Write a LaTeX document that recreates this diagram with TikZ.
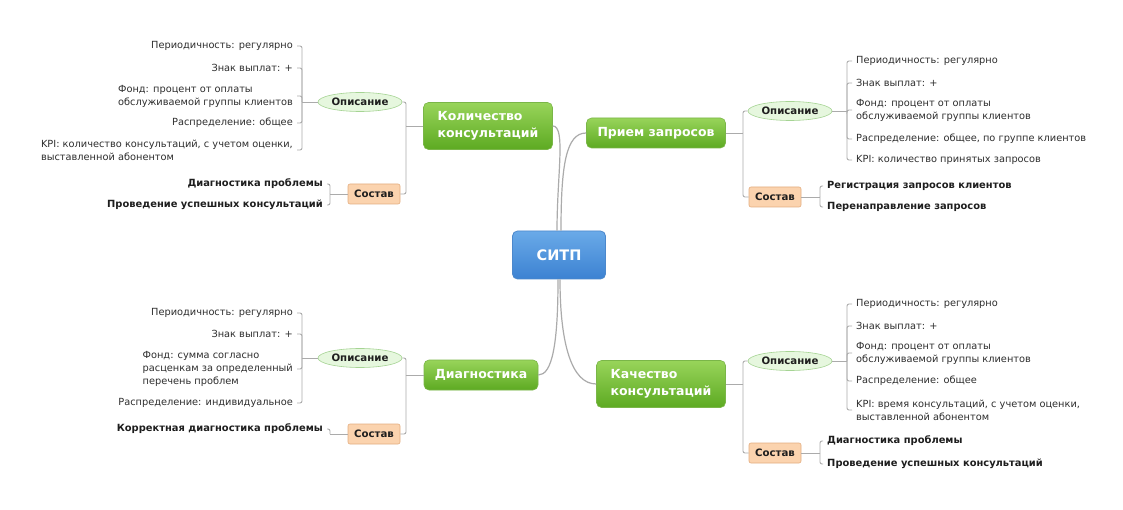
\documentclass[tikz,border=0pt]{standalone}
\usepackage{fontspec}
\setmainfont{DejaVu Sans}
\usetikzlibrary{shapes.geometric}
\definecolor{lgray}{HTML}{ABABAB}
\definecolor{txt}{HTML}{2E2E2E}
\definecolor{btxt}{HTML}{1E1E1E}
\definecolor{gtop}{HTML}{98D45A}
\definecolor{gbot}{HTML}{5DAA22}
\definecolor{gborder}{HTML}{7AB648}
\definecolor{btop}{HTML}{6AAAE8}
\definecolor{bbot}{HTML}{3C82D2}
\definecolor{bborder}{HTML}{4C88CC}
\definecolor{efill}{HTML}{E6F7DE}
\definecolor{eborder}{HTML}{A6D494}
\definecolor{ofill}{HTML}{FBD3AE}
\definecolor{oborder}{HTML}{E3AD80}
\newcommand\lfnt{\fontsize{9.8}{13}\selectfont}
\newcommand\bfnt{\fontsize{9.9}{13}\selectfont\bfseries}
\newcommand\efnt{\fontsize{10.2}{13}\selectfont\bfseries}
\newcommand\tfnt{\fontsize{12.5}{16.5}\selectfont\bfseries}
\begin{document}
\begin{tikzpicture}[x=1pt,y=-1pt,
  conn/.style={draw=lgray, line width=0.9pt, rounded corners=2pt},
  curve/.style={draw=lgray, line width=1.2pt},
  leafL/.style={anchor=east, align=left, font=\lfnt, text=txt, inner xsep=4pt, inner ysep=1pt},
  leafR/.style={anchor=west, align=left, font=\lfnt, text=txt, inner xsep=4pt, inner ysep=1pt},
  bleafL/.style={anchor=east, font=\bfnt, text=btxt, inner xsep=4pt, inner ysep=1pt},
  bleafR/.style={anchor=west, font=\bfnt, text=btxt, inner xsep=4pt, inner ysep=1pt},
  central/.style={rectangle, rounded corners=5pt, draw=bborder, line width=0.8pt, top color=btop, bottom color=bbot, minimum width=93pt, minimum height=48pt, text=white, font=\fontsize{14.5}{16}\selectfont\bfseries, inner sep=0pt},
  topic/.style={rectangle, rounded corners=5pt, draw=gborder, line width=0.6pt, top color=gtop, bottom color=gbot, text=white, font=\tfnt, align=left, inner sep=0pt},
  descr/.style={ellipse, draw=eborder, fill=efill, line width=0.6pt, minimum width=84pt, minimum height=19pt, inner sep=0pt, font=\efnt, text=btxt},
  comp/.style={rectangle, rounded corners=2pt, draw=oborder, fill=ofill, line width=0.6pt, minimum width=52pt, minimum height=20pt, inner sep=0pt, font=\efnt, text=btxt}
]
\useasboundingbox[fill=white] (0,0) rectangle (1123,510);

% central
\node[central] (cen) at (559,255) {СИТП};

% topics
\node[topic, minimum width=129pt, minimum height=47pt] (kol) at (488,126) {Количество\\консультаций};
\node[topic, minimum width=139pt, minimum height=30pt] (pri) at (656,133) {Прием запросов};
\node[topic, minimum width=114pt, minimum height=30pt] (dia) at (481,375) {Диагностика};
\node[topic, minimum width=129pt, minimum height=47pt] (kach) at (661,384) {Качество\\консультаций};

% central connectors
\draw[curve] ([xshift=-2pt]cen.north) .. controls (557,175) and (566,126) .. (kol.east);
\draw[curve] ([xshift=2pt]cen.north) .. controls (561,165) and (566,133) .. (pri.west);
\draw[curve] ([xshift=-1pt]cen.south) .. controls (558,345) and (552,375) .. (dia.east);
\draw[curve] ([xshift=1pt]cen.south) .. controls (560,345) and (572,384) .. (kach.west);

% ---------- Количество консультаций ----------
\node[descr] (op1) at (360,102) {Описание};
\node[comp] (so1) at (374,194) {Состав};
\coordinate (b1) at (406,126);
\draw[conn] (kol.west) -- (b1);
\draw[conn] (b1) |- (op1.east);
\draw[conn] (b1) |- (so1.east);
\coordinate (c1) at (302,102);
\draw[conn] (op1.west) -- (c1);
\node[leafL] (l11) at (297,46) {Периодичность: регулярно};
\node[leafL] (l12) at (297,68) {Знак выплат: +};
\node[leafL] (l13) at (297,96) {Фонд: процент от оплаты\\обслуживаемой группы клиентов};
\node[leafL] (l14) at (297,123) {Распределение: общее};
\node[leafL] (l15) at (297,150) {KPI: количество консультаций, с учетом оценки,\\выставленной абонентом};
\foreach \n in {l11,l12,l13,l14,l15} \draw[conn] (c1) |- (\n.east);
\coordinate (c2) at (330,194);
\draw[conn] (so1.west) -- (c2);
\node[bleafL] (s11) at (327,184) {Диагностика проблемы};
\node[bleafL] (s12) at (327,205) {Проведение успешных консультаций};
\foreach \n in {s11,s12} \draw[conn] (c2) |- (\n.east);

% ---------- Прием запросов ----------
\node[descr] (op2) at (790,111) {Описание};
\node[comp] (so2) at (775,197) {Состав};
\coordinate (b2) at (743,133);
\draw[conn] (pri.east) -- (b2);
\draw[conn] (b2) |- (op2.west);
\draw[conn] (b2) |- (so2.west);
\coordinate (c3) at (847,111);
\draw[conn] (op2.east) -- (c3);
\node[leafR] (l21) at (852,61) {Периодичность: регулярно};
\node[leafR] (l22) at (852,83) {Знак выплат: +};
\node[leafR] (l23) at (852,110) {Фонд: процент от оплаты\\обслуживаемой группы клиентов};
\node[leafR] (l24) at (852,139) {Распределение: общее, по группе клиентов};
\node[leafR] (l25) at (852,160) {KPI: количество принятых запросов};
\foreach \n in {l21,l22,l23,l24,l25} \draw[conn] (c3) |- (\n.west);
\coordinate (c4) at (820,197);
\draw[conn] (so2.east) -- (c4);
\node[bleafR] (s21) at (823,186) {Регистрация запросов клиентов};
\node[bleafR] (s22) at (823,207) {Перенаправление запросов};
\foreach \n in {s21,s22} \draw[conn] (c4) |- (\n.west);

% ---------- Диагностика ----------
\node[descr] (op3) at (360,358) {Описание};
\node[comp] (so3) at (374,434) {Состав};
\coordinate (b3) at (406,375);
\draw[conn] (dia.west) -- (b3);
\draw[conn] (b3) |- (op3.east);
\draw[conn] (b3) |- (so3.east);
\coordinate (c5) at (302,358);
\draw[conn] (op3.west) -- (c5);
\node[leafL] (l31) at (297,313) {Периодичность: регулярно};
\node[leafL] (l32) at (297,334) {Знак выплат: +};
\node[leafL] (l33) at (297,369) {Фонд: сумма согласно\\расценкам за определенный\\перечень проблем};
\node[leafL] (l34) at (297,403) {Распределение: индивидуальное};
\foreach \n in {l31,l32,l33,l34} \draw[conn] (c5) |- (\n.east);
\coordinate (c6) at (330,434);
\draw[conn] (so3.west) -- (c6);
\node[bleafL] (s31) at (327,429) {Корректная диагностика проблемы};
\draw[conn] (c6) |- (s31.east);

% ---------- Качество консультаций ----------
\node[descr] (op4) at (790,361) {Описание};
\node[comp] (so4) at (775,453) {Состав};
\coordinate (b4) at (743,384);
\draw[conn] (kach.east) -- (b4);
\draw[conn] (b4) |- (op4.west);
\draw[conn] (b4) |- (so4.west);
\coordinate (c7) at (847,361);
\draw[conn] (op4.east) -- (c7);
\node[leafR] (l41) at (852,304) {Периодичность: регулярно};
\node[leafR] (l42) at (852,326) {Знак выплат: +};
\node[leafR] (l43) at (852,353) {Фонд: процент от оплаты\\обслуживаемой группы клиентов};
\node[leafR] (l44) at (852,381) {Распределение: общее};
\node[leafR] (l45) at (852,410) {KPI: время консультаций, с учетом оценки,\\выставленной абонентом};
\foreach \n in {l41,l42,l43,l44,l45} \draw[conn] (c7) |- (\n.west);
\coordinate (c8) at (820,453);
\draw[conn] (so4.east) -- (c8);
\node[bleafR] (s41) at (823,441) {Диагностика проблемы};
\node[bleafR] (s42) at (823,464) {Проведение успешных консультаций};
\foreach \n in {s41,s42} \draw[conn] (c8) |- (\n.west);
\end{tikzpicture}
\end{document}
